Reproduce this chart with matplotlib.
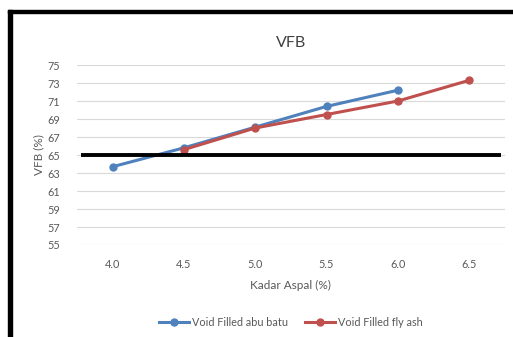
import numpy as np
import matplotlib.pyplot as plt
from matplotlib.patches import Rectangle

kadar = [4.0, 4.5, 5.0, 5.5, 6.0, 6.5]
abu_batu = [63.7, 65.8, 68.1, 70.4, 72.2]
fly_ash = [65.6, 68.0, 69.5, 71.0, 73.3]
fly_ash_x = [4.5, 5.0, 5.5, 6.0, 6.5]
batas = 65.0
yticks = list(range(55, 76, 2))

plt.rcParams['font.family'] = ['Lato', 'DejaVu Sans']

fig = plt.figure(figsize=(5.13, 3.37), dpi=100)

ax = fig.add_axes([0.150, 0.273, 0.834, 0.534])

ax.plot(kadar[:5], abu_batu, '-o', color='#4F81BD', lw=2.2, ms=5, label='Void Filled abu batu')
ax.plot(fly_ash_x, fly_ash, '-o', color='#C0504D', lw=2.2, ms=5, label='Void Filled fly ash')
ax.hlines(batas, 3.78, 6.72, color='black', lw=2.8, zorder=3)

ax.set_xlim(3.75, 6.75)
ax.set_ylim(55, 75)
ax.set_xticks(kadar)
ax.set_xticklabels(['%.1f' % k for k in kadar])
ax.set_yticks(yticks)
ax.yaxis.grid(True, color='#d9d9d9', lw=0.8)
ax.set_axisbelow(True)
for s in ax.spines.values():
    s.set_visible(False)
ax.tick_params(length=0, labelsize=7.8, labelcolor='#595959', pad=10)
ax.tick_params(axis='y', pad=12)

ax.set_title('VFB', fontsize=11.5, color='#404040', pad=13)
ax.set_xlabel('Kadar Aspal (%)', fontsize=8.5, color='#595959', labelpad=7)
ax.set_ylabel('VFB (%)', fontsize=8.5, color='#595959', labelpad=2)

ax.legend(loc='center', bbox_to_anchor=(0.5, -0.43), ncol=2, frameon=False,
          fontsize=7.8, labelcolor='#595959', handlelength=2.8, columnspacing=1.5,
          handletextpad=0.3)

# bingkai kiri dan atas (dalam piksel)
fig.patches.append(Rectangle((8 / 513, 0), 3.5 / 513, 1 - 9.5 / 337,
                             transform=fig.transFigure, color='black', figure=fig))
fig.patches.append(Rectangle((8 / 513, 1 - 13 / 337), 1, 3.2 / 337,
                             transform=fig.transFigure, color='black', figure=fig))

fig.savefig('out.png', dpi=100)
